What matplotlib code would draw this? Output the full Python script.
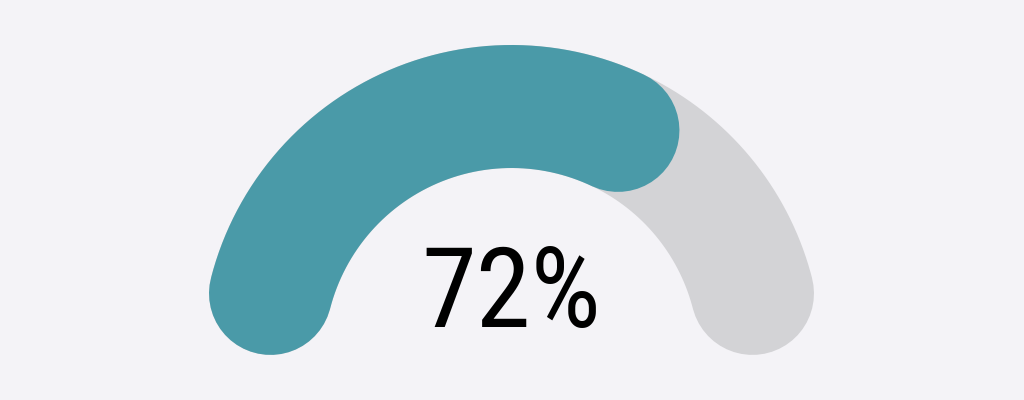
import matplotlib
matplotlib.use("Agg")
import matplotlib.pyplot as plt
import numpy as np

# gauge data
value = 72
max_value = 100
label = "72%"

bg_color = '#f4f3f7'
track_color = '#d3d3d6'
fill_color = '#4a9aa8'

fig = plt.figure(figsize=(10.24, 4.0), dpi=100)
fig.patch.set_facecolor(bg_color)
ax = fig.add_axes([0, 0, 1, 1])
ax.set_facecolor(bg_color)
ax.set_xlim(0, 1024)
ax.set_ylim(400, 0)
ax.axis('off')

# geometry in pixels
cx, cy = 511.5, 355.3
R = 248.8
half_w = 61.5
a0, a1 = np.radians(165.6), np.radians(14.4)
lw = 2 * half_w * 72 / 100.0  # px -> points

def arc(t0, t1, color):
    t = np.linspace(t0, t1, 300)
    ax.plot(cx + R * np.cos(t), cy - R * np.sin(t), color=color, lw=lw,
            solid_capstyle='round')

# background track
arc(a0, a1, track_color)

# filled part: length incl. round caps is value share of full length
total_len = R * (a0 - a1) + 2 * half_w
fill_len = value / max_value * total_len
span = max(fill_len - 2 * half_w, 0) / R
arc(a0, a0 - span, fill_color)

ax.text(511, 327, label, ha='center', va='baseline', fontsize=80,
        family=['Roboto Condensed', 'Roboto', 'DejaVu Sans'], color='black')

plt.savefig("out.png", dpi=100, facecolor=bg_color)
